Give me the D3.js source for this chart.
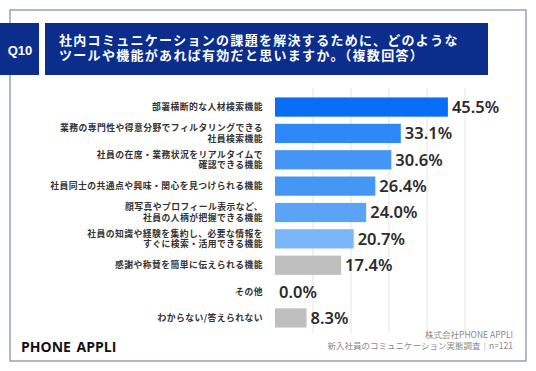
<!DOCTYPE html>
<html>
<head>
<meta charset="utf-8">
<script src="https://cdn.jsdelivr.net/npm/d3@7"></script>
<style>
  body { margin: 0; background: #fff; }
  svg { display: block; }
</style>
</head>
<body>
<div id="chart"></div>
<script>
// data
var categories = [
  "部署横断的な人材検索機能",
  "業務の専門性や得意分野でフィルタリングできる\n社員検索機能",
  "社員の在席・業務状況をリアルタイムで\n確認できる機能",
  "社員同士の共通点や興味・関心を見つけられる機能",
  "顔写真やプロフィール表示など、\n社員の人柄が把握できる機能",
  "社員の知識や経験を集約し、必要な情報を\nすぐに検索・活用できる機能",
  "感謝や称賛を簡単に伝えられる機能",
  "その他",
  "わからない/答えられない"
];
var values = [45.5, 33.1, 30.6, 26.4, 24.0, 20.7, 17.4, 0.0, 8.3];
var barColors = ["#0a6ef5", "#2e88f7", "#4595f6", "#4597f5", "#5aa3f5", "#7ab6f8", "#bfbfbf", "#bfbfbf", "#bfbfbf"];
var gridTicks = [10, 20, 30, 40, 50];
var titleLines = ["社内コミュニケーションの課題を解決するために、どのような", "ツールや機能があれば有効だと思いますか。（複数回答）"];
var sourceLines = ["株式会社PHONE APPLI", "新入社員のコミュニケーション実態調査｜n=121"];

var width = 536, height = 371;
var navy = "#0b2d8c";
var cjk = "'Noto Sans CJK JP', 'Noto Sans', sans-serif";

var svg = d3.select("#chart").append("svg")
  .attr("width", width)
  .attr("height", height);

// frame
svg.append("rect")
  .attr("x", 10).attr("y", 10)
  .attr("width", 516).attr("height", 351)
  .attr("fill", "none")
  .attr("stroke", "#8196ae")
  .attr("stroke-width", 1.3);

// header boxes
svg.append("rect").attr("x", 0).attr("y", 23).attr("width", 39).attr("height", 52).attr("fill", navy);
svg.append("rect").attr("x", 45).attr("y", 23).attr("width", 443).attr("height", 52).attr("fill", navy);

svg.append("text")
  .attr("x", 20).attr("y", 54.5)
  .attr("text-anchor", "middle")
  .attr("fill", "#fff")
  .style("font-family", "'Liberation Sans', Arial, sans-serif")
  .style("font-weight", "bold")
  .style("font-size", "13px")
  .text("Q10");

svg.selectAll("text.title")
  .data(titleLines)
  .enter().append("text")
  .attr("class", "title")
  .attr("x", 59)
  .attr("y", function(d, i) { return 45 + i * 14.5; })
  .attr("fill", "#fff")
  .style("font-family", cjk)
  .style("font-weight", "bold")
  .style("font-size", "13px")
  .style("letter-spacing", "1.3px")
  .text(function(d) { return d; });

// scales
var x = d3.scaleLinear().domain([0, 50]).range([275, 465]);
var y = d3.scaleBand().domain(d3.range(categories.length)).range([94, 331]).paddingInner(0.27).paddingOuter(0.13);

// gridlines
svg.selectAll("line.grid")
  .data(gridTicks)
  .enter().append("line")
  .attr("class", "grid")
  .attr("x1", function(d) { return x(d); })
  .attr("x2", function(d) { return x(d); })
  .attr("y1", 88).attr("y2", 333)
  .attr("stroke", "#e3e3e3")
  .attr("stroke-width", 1);

// bars
svg.selectAll("rect.bar")
  .data(values)
  .enter().append("rect")
  .attr("class", "bar")
  .attr("x", x(0))
  .attr("y", function(d, i) { return y(i); })
  .attr("width", function(d) { return x(d) - x(0); })
  .attr("height", y.bandwidth())
  .attr("fill", function(d, i) { return barColors[i]; });

// value labels
svg.selectAll("text.val")
  .data(values)
  .enter().append("text")
  .attr("class", "val")
  .attr("x", function(d) { return x(d) + 4; })
  .attr("y", function(d, i) { return y(i) + y.bandwidth() / 2; })
  .attr("dy", "0.36em")
  .attr("fill", "#2b2b2b")
  .style("font-family", "'Noto Sans', sans-serif")
  .style("font-weight", 600)
  .style("font-size", "16.5px")
  .text(function(d) { return d.toFixed(1) + "%"; });

// category labels
var labels = svg.selectAll("text.cat")
  .data(categories)
  .enter().append("text")
  .attr("class", "cat")
  .attr("text-anchor", "end")
  .attr("fill", "#333")
  .style("font-family", cjk)
  .style("font-weight", "bold")
  .style("font-size", "8.8px")
  .style("letter-spacing", "0.45px");

labels.each(function(d, i) {
  var lines = d.split("\n");
  var cy = y(i) + y.bandwidth() / 2;
  d3.select(this).selectAll("tspan")
    .data(lines)
    .enter().append("tspan")
    .attr("x", 263)
    .attr("y", function(l, j) { return cy + (j - (lines.length - 1) / 2) * 10.4; })
    .attr("dy", "0.35em")
    .text(function(l) { return l; });
});

// footer
svg.append("text")
  .attr("x", 21).attr("y", 352)
  .attr("fill", "#111")
  .style("font-family", "'Open Sans', sans-serif")
  .style("font-weight", "bold")
  .style("font-size", "14px")
  .style("word-spacing", "2px")
  .text("PHONE APPLI");

svg.selectAll("text.src")
  .data(sourceLines)
  .enter().append("text")
  .attr("class", "src")
  .attr("x", 513)
  .attr("y", function(d, i) { return 338 + i * 11; })
  .attr("text-anchor", "end")
  .attr("fill", "#8a8a8a")
  .style("font-family", cjk)
  .style("font-size", "8.5px")
  .text(function(d) { return d; });
</script>
</body>
</html>
